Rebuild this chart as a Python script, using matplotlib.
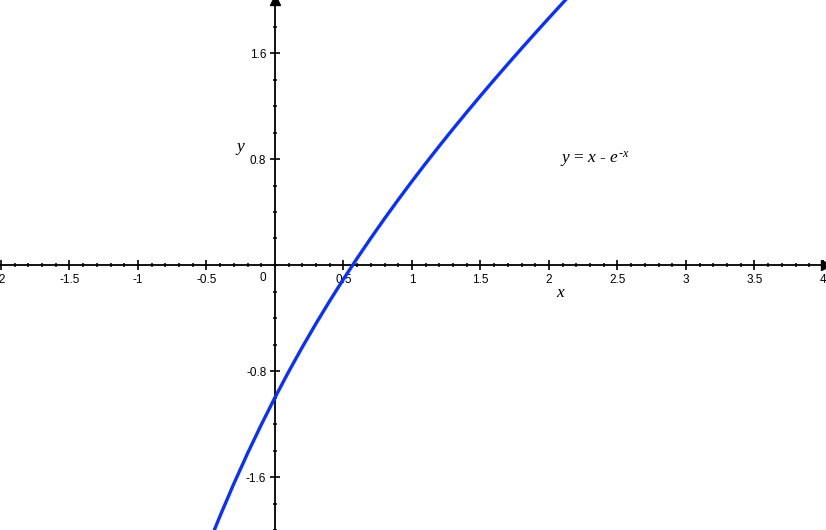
import matplotlib
matplotlib.use("Agg")
import matplotlib.pyplot as plt
from matplotlib.ticker import MultipleLocator

x_vals = [-0.46, -0.4, -0.3, -0.2, -0.1, 0.0, 0.1, 0.2, 0.3, 0.4, 0.5, 0.6, 0.7,
          0.8, 0.9, 1.0, 1.1, 1.2, 1.3, 1.4, 1.5, 1.6, 1.7, 1.8, 1.9, 2.0, 2.1, 2.2]
y_vals = [-2.0441, -1.8918, -1.6499, -1.4214, -1.2052, -1.0, -0.8048, -0.6187,
          -0.4408, -0.2703, -0.1065, 0.0512, 0.2034, 0.3507, 0.4934, 0.6321,
          0.7671, 0.8988, 1.0275, 1.1534, 1.2769, 1.3981, 1.5173, 1.6347,
          1.7504, 1.8647, 1.9775, 2.0892]

x_ticks = [-2, -1.5, -1, -0.5, 0.5, 1, 1.5, 2, 2.5, 3, 3.5, 4]
x_labels = ['-2', '-1.5', '-1', '-0.5', '0.5', '1', '1.5', '2', '2.5', '3', '3.5', '4']
y_ticks = [-1.6, -0.8, 0.8, 1.6]
y_labels = ['-1.6', '-0.8', '0.8', '1.6']

plt.rcParams['font.family'] = ['Liberation Sans', 'DejaVu Sans']
plt.rcParams['mathtext.fontset'] = 'custom'
plt.rcParams['mathtext.it'] = 'Liberation Serif:italic'
plt.rcParams['mathtext.rm'] = 'Liberation Serif'

fig = plt.figure(figsize=(8.26, 5.30), dpi=100)
ax = fig.add_axes([0, 0, 1, 1])
ax.patch.set_alpha(0)

ax.plot(x_vals, y_vals, color='#0a30ff', lw=2.4, solid_capstyle='butt', zorder=3)

ax.set_xlim(-2.007, 4.022)
ax.set_ylim(-2.0, 2.0)

for side in ['top', 'right']:
    ax.spines[side].set_visible(False)
ax.spines['left'].set_position(('data', 0))
ax.spines['bottom'].set_position(('data', 0))
ax.spines['left'].set_linewidth(1.3)
ax.spines['bottom'].set_linewidth(1.3)

ax.set_xticks(x_ticks)
ax.set_xticklabels(x_labels)
ax.set_yticks(y_ticks)
ax.set_yticklabels(y_labels)
ax.xaxis.set_minor_locator(MultipleLocator(0.1))
ax.yaxis.set_minor_locator(MultipleLocator(0.2))

ax.tick_params(which='major', direction='inout', length=6.5, width=1.2, labelsize=8.5,
               pad=3, colors='black')
ax.tick_params(which='minor', direction='inout', length=3, width=1.1)

# fleches au bout des axes
ax.plot(1, 0, '>', color='black', ms=7, transform=ax.get_yaxis_transform(), clip_on=False)
ax.plot(0, 1, '^', color='black', ms=7, transform=ax.get_xaxis_transform(), clip_on=False)

ax.text(-0.09, -0.1, '0', fontsize=8.5, ha='center', va='center')
ax.text(2.08, -0.21, 'x', fontsize=12.5, family='Liberation Serif', style='italic',
        ha='center', va='center')
ax.text(-0.25, 0.89, 'y', fontsize=12.5, family='Liberation Serif', style='italic',
        ha='center', va='center')
ax.text(2.08, 0.79, r'$y$ = $x$ - $e^{\text{-}x}$', fontsize=12.5,
        family='Liberation Serif', ha='left', va='center')

fig.savefig('out.png', dpi=100)
